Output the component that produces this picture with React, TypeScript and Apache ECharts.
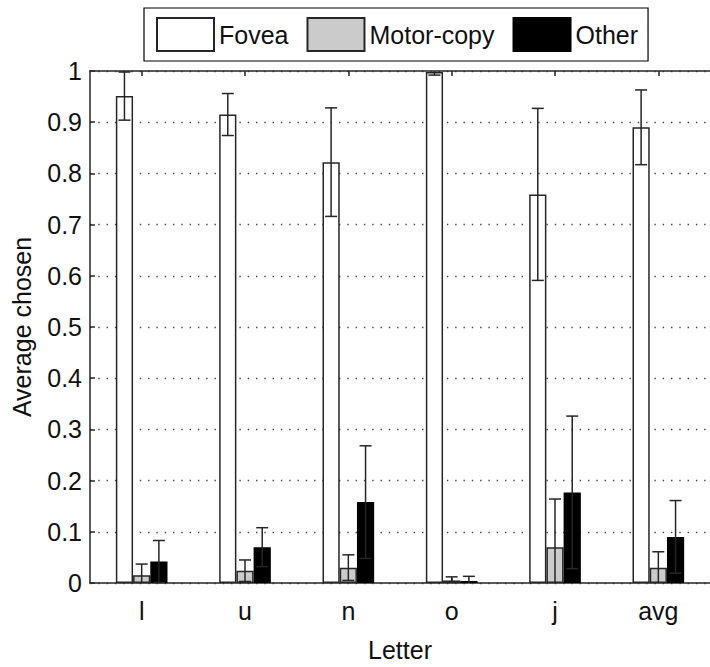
import React, { useEffect, useRef } from "react";
import * as echarts from "echarts";

const categories = ["l", "u", "n", "o", "j", "avg"];
const seriesNames = ["Fovea", "Motor-copy", "Other"];
const foveaValues = [0.951, 0.915, 0.822, 0.998, 0.759, 0.89];
const foveaErrors = [0.047, 0.041, 0.106, 0.006, 0.168, 0.073];
const motorValues = [0.015, 0.024, 0.03, 0.005, 0.07, 0.03];
const motorErrors = [0.022, 0.021, 0.025, 0.007, 0.094, 0.031];
const otherValues = [0.042, 0.07, 0.158, 0.004, 0.177, 0.09];
const otherErrors = [0.041, 0.038, 0.11, 0.009, 0.149, 0.071];
const yTickLabels = ["0", "0.1", "0.2", "0.3", "0.4", "0.5", "0.6", "0.7", "0.8", "0.9", "1"];
const yMin = 0;
const yMax = 1;

const FONT = "Liberation Sans";
const AXIS_COLOR = "#262626";
const TEXT_COLOR = "#111";

function makeErrorSeries(values: number[], errors: number[], k: number) {
  return {
    type: "custom",
    xAxisIndex: 0,
    yAxisIndex: 0,
    z: 5,
    silent: true,
    data: values.map((v, i) => [i, v - errors[i], v + errors[i]]),
    encode: { x: 0, y: [1, 2] },
    renderItem: (params: any, api: any) => {
      const i = api.value(0);
      const loV = api.value(1);
      const hiV = api.value(2);
      const band = api.size([1, 0])[0];
      const off = ((k - 1) * band) / 6;
      const lo = api.coord([i, Math.max(loV, yMin)]);
      const hi = api.coord([i, Math.min(hiV, yMax)]);
      const x = lo[0] + off;
      const cap = 6;
      const style = { stroke: AXIS_COLOR, lineWidth: 1.5 };
      const children: any[] = [
        { type: "line", shape: { x1: x, y1: hi[1], x2: x, y2: lo[1] }, style },
      ];
      if (loV >= yMin) {
        children.push({ type: "line", shape: { x1: x - cap, y1: lo[1], x2: x + cap, y2: lo[1] }, style });
      }
      if (hiV <= yMax) {
        children.push({ type: "line", shape: { x1: x - cap, y1: hi[1], x2: x + cap, y2: hi[1] }, style });
      }
      return { type: "group", children };
    },
  };
}

export default function App() {
  const ref = useRef<HTMLDivElement>(null);
  useEffect(() => {
    if (!ref.current) return;
    const chart = echarts.init(ref.current, null, { renderer: "svg" });
    const barBase = {
      type: "bar",
      xAxisIndex: 0,
      yAxisIndex: 0,
      barGap: "0%",
      barCategoryGap: "50%",
      z: 3,
    };
    chart.setOption({
      animation: false,
      backgroundColor: "#ffffff",
      textStyle: { fontFamily: FONT },
      legend: {
        data: seriesNames,
        left: 144,
        top: 8,
        orient: "horizontal",
        itemWidth: 57,
        itemHeight: 33,
        itemGap: 18,
        padding: [9, 10, 9, 12],
        borderColor: "#000",
        borderWidth: 1.2,
        backgroundColor: "#fff",
        icon: "rect",
        selectedMode: false,
        textStyle: { fontFamily: FONT, fontSize: 25, color: TEXT_COLOR },
      },
      grid: { left: 90, right: -7, top: 71, bottom: 75, containLabel: false },
      xAxis: [
        {
          type: "category",
          data: categories,
          position: "bottom",
          boundaryGap: true,
          name: "Letter",
          nameLocation: "middle",
          nameGap: 54,
          nameTextStyle: { fontFamily: FONT, fontSize: 25, color: TEXT_COLOR },
          axisLine: { show: true, lineStyle: { color: AXIS_COLOR, width: 1.5 } },
          axisTick: { show: true, inside: true, alignWithLabel: true, length: 5, lineStyle: { color: AXIS_COLOR, width: 1.5 } },
          axisLabel: { fontFamily: FONT, fontSize: 25, color: TEXT_COLOR, margin: 15 },
          splitLine: { show: false },
        },
        {
          type: "category",
          data: categories,
          position: "top",
          boundaryGap: true,
          axisLine: { show: true, lineStyle: { color: AXIS_COLOR, width: 1.5 } },
          axisTick: { show: true, inside: true, alignWithLabel: true, length: 5, lineStyle: { color: AXIS_COLOR, width: 1.5 } },
          axisLabel: { show: false },
          splitLine: { show: false },
        },
      ],
      yAxis: [
        {
          type: "value",
          min: yMin,
          max: yMax,
          interval: 0.1,
          name: "Average chosen",
          nameLocation: "middle",
          nameGap: 56,
          nameTextStyle: { fontFamily: FONT, fontSize: 25, color: TEXT_COLOR },
          axisLine: { show: true, lineStyle: { color: AXIS_COLOR, width: 1.5 } },
          axisTick: { show: true, inside: true, length: 5, lineStyle: { color: AXIS_COLOR, width: 1.5 } },
          axisLabel: {
            fontFamily: FONT,
            fontSize: 25,
            color: TEXT_COLOR,
            margin: 8,
            padding: [6, 0, 0, 0],
            formatter: (v: number) => yTickLabels[Math.round(v * 10)],
          },
          splitLine: { show: true, lineStyle: { color: "#444", width: 1.4, type: [1.4, 6.9] } },
        },
      ],
      series: [
        {
          ...barBase,
          name: seriesNames[0],
          data: foveaValues,
          itemStyle: { color: "#ffffff", borderColor: AXIS_COLOR, borderWidth: 1.5 },
        },
        {
          ...barBase,
          name: seriesNames[1],
          data: motorValues,
          itemStyle: { color: "#cbcbcb", borderColor: AXIS_COLOR, borderWidth: 1.5 },
        },
        {
          ...barBase,
          name: seriesNames[2],
          data: otherValues,
          itemStyle: { color: "#000000", borderColor: "#000", borderWidth: 1.5 },
        },
        makeErrorSeries(foveaValues, foveaErrors, 0),
        makeErrorSeries(motorValues, motorErrors, 1),
        makeErrorSeries(otherValues, otherErrors, 2),
      ],
    });
    return () => chart.dispose();
  }, []);
  return (
    <div
      ref={ref}
      style={{ position: "absolute", left: 0, top: 0, width: 710, height: 667 }}
    />
  );
}
